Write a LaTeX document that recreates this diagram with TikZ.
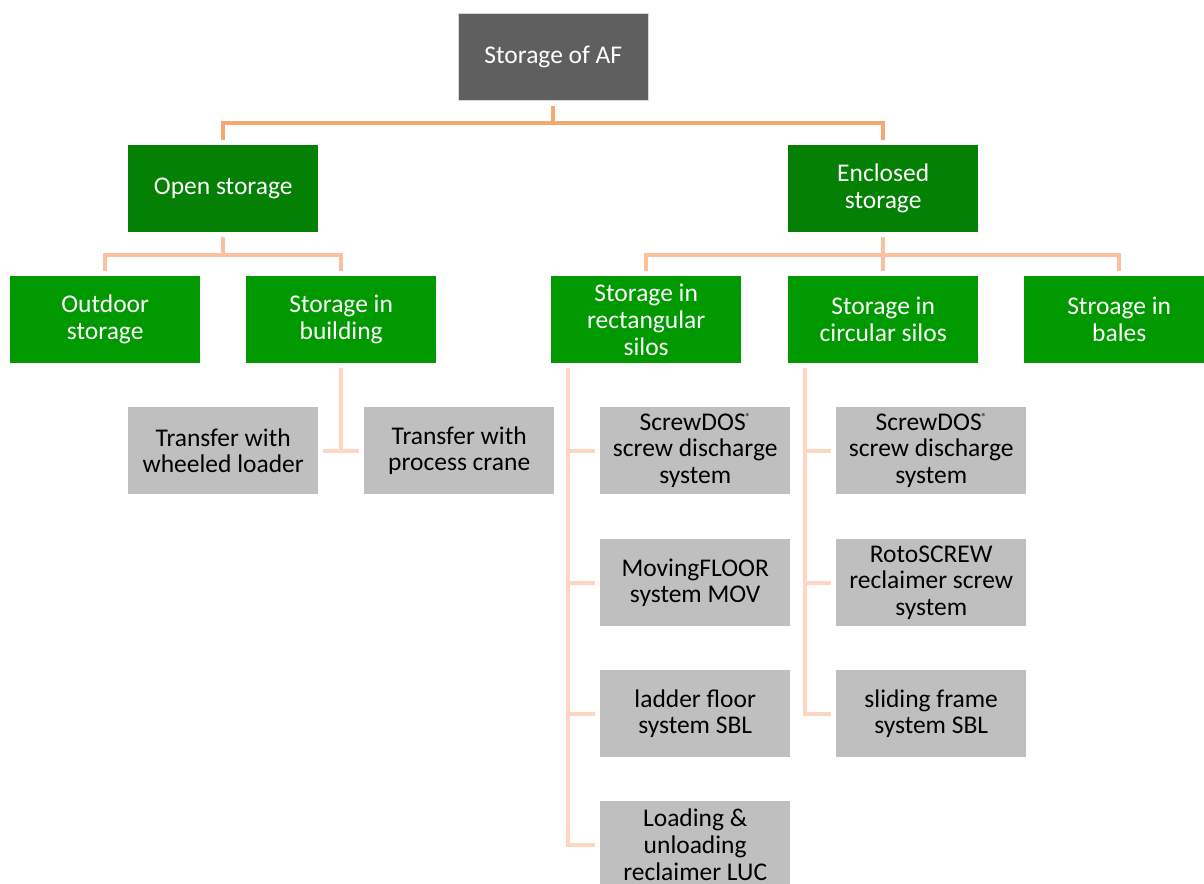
\documentclass[tikz,border=0pt]{standalone}
\usepackage{fontspec}
\setmainfont{Carlito}
\definecolor{rootgray}{HTML}{5F5F5F}
\definecolor{darkgreen}{RGB}{4,128,4}
\definecolor{midgreen}{RGB}{0,153,0}
\definecolor{leafgray}{HTML}{BFBFBF}
\definecolor{linkA}{RGB}{247,167,112}
\definecolor{linkB}{RGB}{251,192,158}
\definecolor{linkC}{RGB}{252,214,194}
\newcommand{\regmark}{\raisebox{0.75ex}{\fontsize{10}{10}\selectfont ®}}
\begin{document}
\begin{tikzpicture}[x=1pt,y=-1pt,
  box/.style={minimum width=190pt, minimum height=87pt, inner sep=0pt,
    align=center, anchor=north west, font=\fontsize{25.5}{26.8}\selectfont},
  rootbox/.style={box, fill=rootgray, text=white, draw=white!75!rootgray, line width=0.6pt},
  lvltwo/.style={box, fill=darkgreen, text=white},
  lvlthree/.style={box, fill=midgreen, text=white},
  leaf/.style={box, fill=leafgray, text=black},
  linkone/.style={draw=linkA, line width=4pt},
  linktwo/.style={draw=linkB, line width=4pt},
  linkthree/.style={draw=linkC, line width=4pt}]
\useasboundingbox (0,0) rectangle (1204,883);
\clip (0,0) rectangle (1204,883);

% top level
\node[rootbox] (root) at (458,13) {Storage of AF};

% second level
\node[lvltwo] (open) at (128,145) {Open storage};
\node[lvltwo] (encl) at (788,145) {Enclosed\\storage};

% third level
\node[lvlthree] (outdoor) at (10,276) {Outdoor\\storage};
\node[lvlthree] (building) at (246,276) {Storage in\\building};
\node[lvlthree] (rect) at (551,276) {Storage in\\rectangular\\silos};
\node[lvlthree] (circ) at (788,276) {Storage in\\circular silos};
\node[lvlthree] (bales) at (1024,276) {Stroage in\\bales};

% handling in buildings
\node[leaf] (loader) at (128,407) {Transfer with\\wheeled loader};
\node[leaf] (crane) at (364,407) {Transfer with\\process crane};

% rectangular silo discharge
\node[leaf] (rsd) at (600,407) {ScrewDOS\regmark\\screw discharge\\system};
\node[leaf] (rmov) at (600,539) {MovingFLOOR\\system MOV};
\node[leaf] (rsbl) at (600,670) {ladder floor\\system SBL};
\node[leaf] (rluc) at (600,801) {Loading \&\\unloading\\reclaimer LUC};

% circular silo discharge
\node[leaf] (csd) at (836,407) {ScrewDOS\regmark\\screw discharge\\system};
\node[leaf] (crot) at (836,539) {RotoSCREW\\reclaimer screw\\system};
\node[leaf] (csbl) at (836,670) {sliding frame\\system SBL};

% bus levels
\coordinate (busA) at (0,123);
\coordinate (busB) at (0,255);

% root -> second level
\draw[linkone] ([yshift=-5pt]root.south) -- (root.south |- busA);
\draw[linkone] ([yshift=5pt]open.north) |- (busA -| encl.north) -- ([yshift=5pt]encl.north);

% second -> third level
\draw[linktwo] ([yshift=-5pt]open.south) -- (open.south |- busB);
\draw[linktwo] ([yshift=5pt]outdoor.north) |- (busB -| building.north) -- ([yshift=5pt]building.north);
\draw[linktwo] ([yshift=-5pt]encl.south) -- (encl.south |- busB);
\draw[linktwo] ([yshift=5pt]rect.north) |- (busB -| bales.north) -- ([yshift=5pt]bales.north);
\draw[linktwo] ([yshift=5pt]circ.north) -- (circ.north |- busB);

% building -> handling
\draw[linkthree] ([yshift=-5pt]building.south) -- (building.south |- loader.east);
\draw[linkthree] ([xshift=5pt]loader.east) -- ([xshift=-5pt]crane.west);

% rectangular silos spine
\coordinate (rspine) at ([xshift=17pt,yshift=-5pt]rect.south west);
\draw[linkthree] (rspine) |- ([xshift=-5pt]rluc.west);
\foreach \n in {rsd,rmov,rsbl}
  \draw[linkthree] (rspine |- \n.west) -- ([xshift=-5pt]\n.west);

% circular silos spine
\coordinate (cspine) at ([xshift=17pt,yshift=-5pt]circ.south west);
\draw[linkthree] (cspine) |- ([xshift=-5pt]csbl.west);
\foreach \n in {csd,crot}
  \draw[linkthree] (cspine |- \n.west) -- ([xshift=-5pt]\n.west);
\end{tikzpicture}
\end{document}
